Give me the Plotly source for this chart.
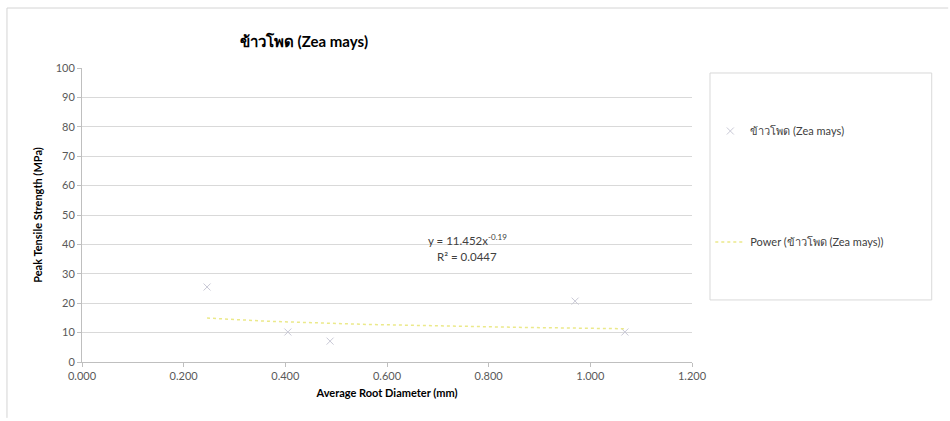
import numpy as np
import plotly.graph_objects as go

# Root diameter (mm) and peak tensile strength (MPa) for each sample
diameter_mm = [0.246, 0.405, 0.488, 0.970, 1.068]
strength_mpa = [25.5, 10.2, 7.1, 20.7, 10.2]

# Power-law trendline coefficients: y = a * x^b
coef_a = 11.452
coef_b = -0.19
r_squared = 0.0447

series_name = "ข้าวโพด (Zea mays)"
title_text = "ข้าวโพด (Zea mays)"
x_title = "Average Root Diameter (mm)"
y_title = "Peak Tensile Strength (MPa)"

x_ticks = [0.0, 0.2, 0.4, 0.6, 0.8, 1.0, 1.2]
y_ticks = [0, 10, 20, 30, 40, 50, 60, 70, 80, 90, 100]

FONT = "Lato, 'Noto Sans', 'DejaVu Sans', sans-serif"

trend_x = np.linspace(min(diameter_mm), max(diameter_mm), 60)
trend_y = coef_a * trend_x ** coef_b

fig = go.Figure()
fig.add_trace(go.Scatter(
    x=diameter_mm, y=strength_mpa, mode="markers", name=series_name,
    legendgroup="a",
    marker=dict(symbol="x-thin", size=7, line=dict(width=1, color="#c9c9d6"), color="#c9c9d6"),
))
fig.add_trace(go.Scatter(
    x=trend_x, y=trend_y, mode="lines", name=f"Power ({series_name})",
    legendgroup="b",
    line=dict(color="#ebe98a", width=1.5, dash="dot"),
))

fig.add_annotation(
    x=0.758, y=41.8, xref="x", yref="y", showarrow=False,
    text=f"y = {coef_a}x<sup>{coef_b:g}</sup>",
    font=dict(family=FONT, size=11.5, color="#404040"),
)
fig.add_annotation(
    x=0.758, y=36.0, xref="x", yref="y", showarrow=False,
    text=f"R² = {r_squared}",
    font=dict(family=FONT, size=11.5, color="#404040"),
)

# Legend frame and outer chart frame
fig.add_shape(type="rect", xref="paper", yref="paper",
              x0=1.0295, x1=1.393, y0=0.211, y1=0.983,
              line=dict(color="#d9d9d9", width=1), fillcolor="rgba(0,0,0,0)")
fig.add_shape(type="line", xref="paper", yref="paper",
              x0=-0.123, x1=1.42, y0=1.204, y1=1.204,
              line=dict(color="#d4d4d4", width=1))
fig.add_shape(type="line", xref="paper", yref="paper",
              x0=-0.123, x1=-0.123, y0=1.204, y1=-0.19,
              line=dict(color="#d4d4d4", width=1))

fig.update_layout(
    width=950, height=421,
    margin=dict(l=82, r=258, t=68, b=59),
    paper_bgcolor="white", plot_bgcolor="white",
    font=dict(family=FONT, size=11, color="#595959"),
    title=dict(text=f"<b>{title_text}</b>", x=(304 / 950), xanchor="center",
               y=1 - 42 / 421, yanchor="middle",
               font=dict(family=FONT, size=15, color="#000000")),
    legend=dict(x=1.03, y=0.835, xanchor="left", yanchor="top",
                traceorder="grouped", tracegroupgap=92,
                bgcolor="rgba(0,0,0,0)", borderwidth=0,
                font=dict(family=FONT, size=11, color="#404040"),
                itemwidth=30),
    xaxis=dict(range=[0, 1.2], tickvals=x_ticks,
               ticktext=[f"{v:.3f}" for v in x_ticks],
               showgrid=False, zeroline=False,
               showline=True, linecolor="#bfbfbf", linewidth=1,
               ticks="outside", tickcolor="#bfbfbf", ticklen=4,
               title=dict(text=f"<b>{x_title}</b>", standoff=8,
                          font=dict(family=FONT, size=11, color="#000000"))),
    yaxis=dict(range=[0, 100], tickvals=y_ticks,
               showgrid=True, gridcolor="#d9d9d9", gridwidth=1, zeroline=False,
               showline=True, linecolor="#bfbfbf", linewidth=1,
               ticks="outside", tickcolor="#bfbfbf", ticklen=4,
               title=dict(text=f"<b>{y_title}</b>", standoff=10,
                          font=dict(family=FONT, size=11, color="#000000"))),
)

fig.write_html("out.html")
